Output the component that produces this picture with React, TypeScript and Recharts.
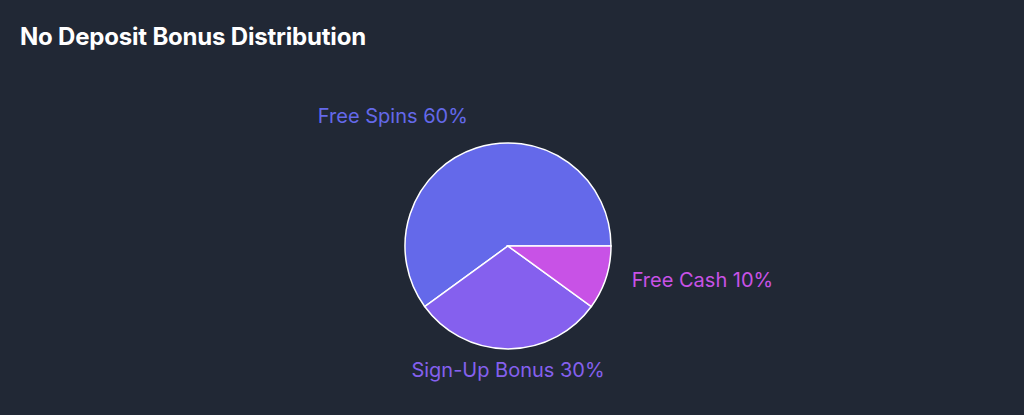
import { PieChart, Pie, Cell } from 'recharts';

const categories = ['Free Spins', 'Sign-Up Bonus', 'Free Cash'];
const shares = [60, 30, 10];
const colors = ['#6469ea', '#8560ee', '#c852e6'];

const data = categories.map((name, i) => ({ name, value: shares[i] }));

const RAD = Math.PI / 180;

// label sits a bit further out than the recharts default
function renderLabel(props: any) {
  const { cx, cy, midAngle, outerRadius, name, percent, fill } = props;
  const r = outerRadius + 27;
  const x = cx + r * Math.cos(-midAngle * RAD);
  const y = cy + r * Math.sin(-midAngle * RAD);
  const dx = x - cx;
  const anchor = Math.abs(dx) < 1 ? 'middle' : dx > 0 ? 'start' : 'end';
  return (
    <text
      x={x}
      y={y + 1}
      fill={fill}
      textAnchor={anchor}
      fontSize={20}
      fontFamily='Inter, sans-serif'
    >
      {`${name} ${Math.round((percent ?? 0) * 100)}%`}
    </text>
  );
}

export default function App() {
  return (
    <div
      style={{
        position: 'fixed',
        left: 0,
        top: 0,
        width: 1024,
        height: 415,
        background: '#212835',
        fontFamily: 'Inter, sans-serif',
        overflow: 'hidden',
      }}
    >
      <div
        style={{
          position: 'absolute',
          left: 20,
          top: 22,
          color: '#ffffff',
          fontSize: 24,
          fontWeight: 700,
          letterSpacing: -0.2,
        }}
      >
        No Deposit Bonus Distribution
      </div>
      <div style={{ position: 'absolute', left: 0, top: 0 }}>
        <PieChart width={1024} height={415} margin={{ top: 0, right: 0, bottom: 0, left: 0 }}>
          <Pie
            data={data}
            dataKey='value'
            nameKey='name'
            cx={508}
            cy={246}
            outerRadius={103}
            stroke='#ffffff'
            strokeWidth={1.5}
            isAnimationActive={false}
            labelLine={false}
            label={renderLabel}
          >
            {data.map((d, i) => (
              <Cell key={d.name} fill={colors[i]} />
            ))}
          </Pie>
        </PieChart>
      </div>
    </div>
  );
}
